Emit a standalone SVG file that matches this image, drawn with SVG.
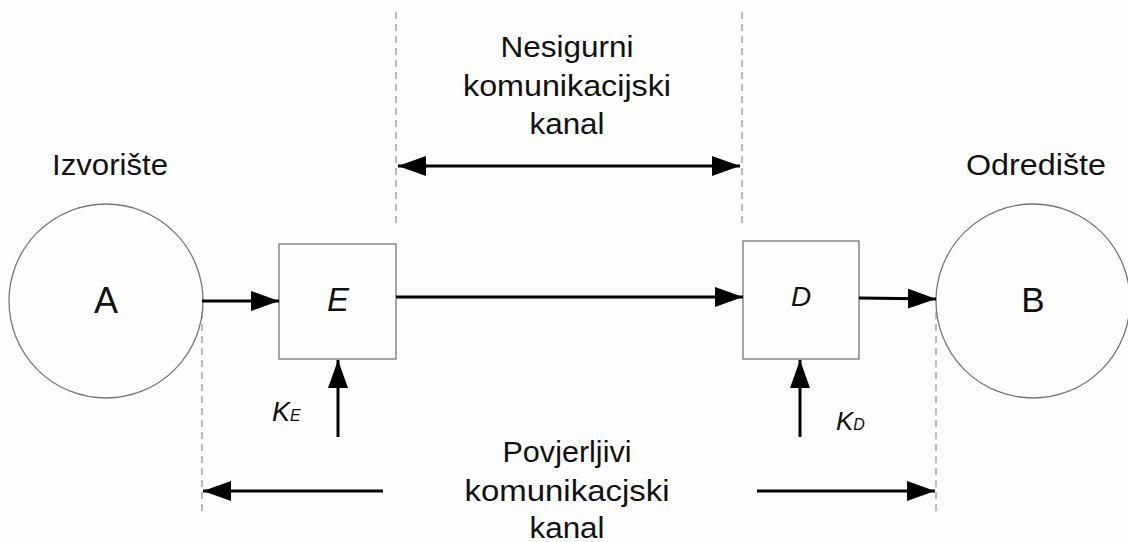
<svg xmlns="http://www.w3.org/2000/svg" width="1128" height="542" viewBox="0 0 1128 542">
<style>
text{font-family:"Liberation Sans",Arial,sans-serif;fill:#111}
.lbl{font-size:30px;text-anchor:middle}
.node{fill:none;stroke:#777;stroke-width:1.3}
.dash{stroke:#999;stroke-width:1.3;stroke-dasharray:7,5;fill:none}
.c{stroke:#000;stroke-width:3;fill:none}
</style>
<defs>
<marker id="ah" viewBox="0 0 28 20" refX="28" refY="10" markerWidth="28" markerHeight="20" markerUnits="userSpaceOnUse" orient="auto-start-reverse">
<path d="M0,0 L28,10 L0,20 Z" fill="#000"/>
</marker>
</defs>
<rect width="1128" height="542" fill="#fdfdfd"/>
<g id="guides">
<line class="dash" x1="396" y1="12" x2="396" y2="228"/>
<line class="dash" x1="742" y1="12" x2="742" y2="228"/>
<line class="dash" x1="202" y1="312" x2="202" y2="516"/>
<line class="dash" x1="936" y1="312" x2="936" y2="516"/>
</g>
<g id="nodeA"><circle class="node" cx="106" cy="301" r="97"/><text x="106" y="313" style="font-size:36px;text-anchor:middle">A</text></g>
<g id="nodeB"><circle class="node" cx="1033" cy="301" r="97"/><text x="1033" y="312" style="font-size:35px;text-anchor:middle">B</text></g>
<g id="nodeE"><rect class="node" x="279" y="244" width="117" height="115"/><text x="338" y="311" style="font-size:33px;font-style:italic;text-anchor:middle">E</text></g>
<g id="nodeD"><rect class="node" x="743" y="241" width="116" height="118"/><text x="801" y="306" style="font-size:28px;font-style:italic;text-anchor:middle">D</text></g>
<g id="labels">
<text class="lbl" x="110" y="175" textLength="116" lengthAdjust="spacingAndGlyphs">Izvorište</text>
<text class="lbl" x="1036" y="175" textLength="140" lengthAdjust="spacingAndGlyphs">Odredište</text>
<text class="lbl" x="567" y="57" textLength="133" lengthAdjust="spacingAndGlyphs">Nesigurni</text>
<text class="lbl" x="567" y="96" textLength="208" lengthAdjust="spacingAndGlyphs">komunikacijski</text>
<text class="lbl" x="567" y="134" textLength="75" lengthAdjust="spacingAndGlyphs">kanal</text>
<text class="lbl" x="567" y="462" textLength="129" lengthAdjust="spacingAndGlyphs">Povjerljivi</text>
<text class="lbl" x="567" y="501" textLength="205" lengthAdjust="spacingAndGlyphs">komunikacjski</text>
<text class="lbl" x="567" y="538" textLength="75" lengthAdjust="spacingAndGlyphs">kanal</text>
<text x="272" y="421" style="font-size:27px;font-style:italic">K<tspan style="font-size:16px">E</tspan></text>
<text x="836" y="430" style="font-size:26px;font-style:italic">K<tspan style="font-size:16px">D</tspan></text>
</g>
<g id="connectors">
<line class="c" x1="398" y1="166" x2="740" y2="166" marker-start="url(#ah)" marker-end="url(#ah)"/>
<line class="c" x1="202" y1="301" x2="279" y2="301" marker-end="url(#ah)"/>
<line class="c" x1="396" y1="297" x2="743" y2="297" marker-end="url(#ah)"/>
<line class="c" x1="859" y1="298" x2="936" y2="299" marker-end="url(#ah)"/>
<line class="c" x1="338" y1="437" x2="338" y2="360" marker-end="url(#ah)"/>
<line class="c" x1="800" y1="437" x2="800" y2="360" marker-end="url(#ah)"/>
<line class="c" x1="383" y1="491" x2="203" y2="491" marker-end="url(#ah)"/>
<line class="c" x1="757" y1="491" x2="935" y2="491" marker-end="url(#ah)"/>
</g>
</svg>
